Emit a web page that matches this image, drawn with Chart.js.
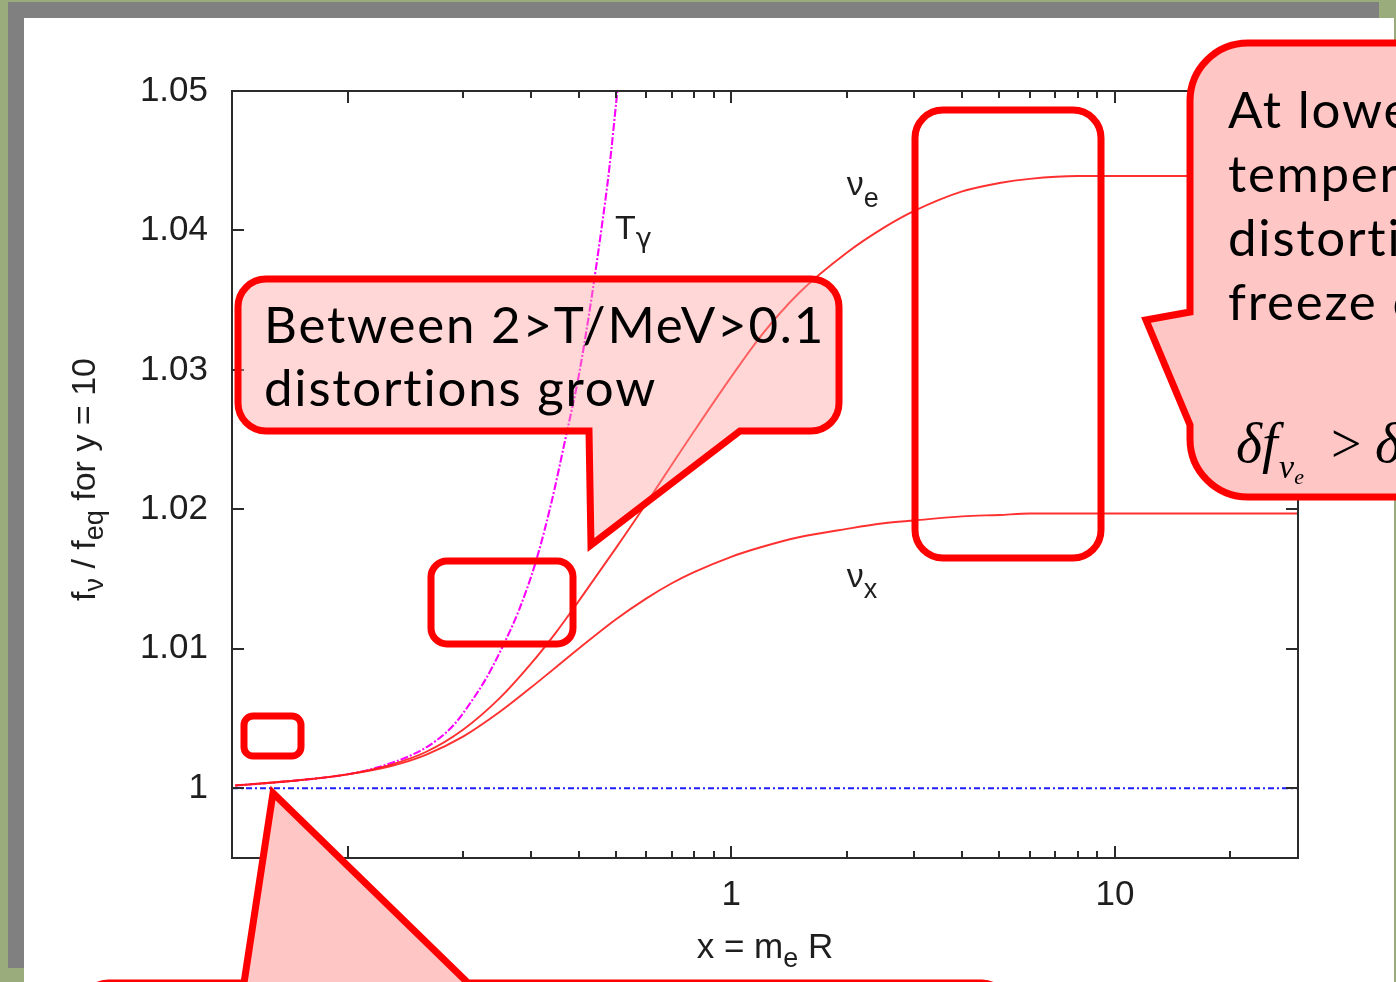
<!DOCTYPE html>
<html>
<head>
<meta charset="utf-8">
<script src="https://cdn.jsdelivr.net/npm/chart.js@4.4.1/dist/chart.umd.min.js"></script>
<style>
  html, body { margin: 0; padding: 0; background: #9bac7c; overflow: hidden; }
  canvas { display: block; }
</style>
</head>
<body>
<canvas id="slide" width="1396" height="982"></canvas>
<script>
// x = m_e R sample points for the neutrino curves
const xNu = [0.051, 0.07, 0.1, 0.13, 0.16, 0.2, 0.25, 0.3, 0.35, 0.4, 0.5, 0.6, 0.7, 0.8, 1, 1.2, 1.5, 2, 2.5, 3, 4, 5, 6, 8, 10, 15, 20, 30];
const nuE = [1.0002, 1.0005, 1.0010, 1.0017, 1.0026, 1.0042, 1.0065, 1.0089, 1.0112, 1.0134, 1.0172, 1.0204, 1.0232, 1.0256, 1.0295, 1.0325, 1.0355, 1.0384, 1.0402, 1.0414, 1.0428, 1.0434, 1.0437, 1.0439, 1.0439, 1.0439, 1.0439, 1.0439];
const nuX = [1.0002, 1.0005, 1.0010, 1.0016, 1.0024, 1.0037, 1.0055, 1.0072, 1.0087, 1.0100, 1.0121, 1.0136, 1.0147, 1.0155, 1.0166, 1.0173, 1.0180, 1.0186, 1.0190, 1.0192, 1.0195, 1.0196, 1.0197, 1.0197, 1.0197, 1.0197, 1.0197, 1.0197];

// photon temperature curve
const xPhoton = [0.051, 0.07, 0.1, 0.12, 0.15, 0.17, 0.19, 0.21, 0.23, 0.25, 0.28, 0.31, 0.34, 0.37, 0.4, 0.43, 0.46, 0.48, 0.505];
const tPhoton = [1.0002, 1.0005, 1.0010, 1.0015, 1.0025, 1.0034, 1.0046, 1.0062, 1.0079, 1.0098, 1.0128, 1.0163, 1.0205, 1.0251, 1.0295, 1.0347, 1.0403, 1.0442, 1.0500];

// equilibrium reference
const xRef = [0.05, 30];
const yRef = [1, 1];

const xTickValues = [0.1, 0.2, 0.3, 0.4, 0.5, 0.6, 0.7, 0.8, 0.9, 1, 2, 3, 4, 5, 6, 7, 8, 9, 10, 20];
const xLabelled = [0.1, 1, 10];
const xLabelText = ['0.1', '1', '10'];
const yTickValues = [1, 1.01, 1.02, 1.03, 1.04, 1.05];
const yLabelText = ['1', '1.01', '1.02', '1.03', '1.04', '1.05'];

const toPoints = (xs, ys) => xs.map((x, i) => ({ x: x, y: ys[i] }));

const AXIS_FONT = '"Liberation Sans", Arial, sans-serif';
const SLIDE_FONT = 'Lato, "Open Sans", sans-serif';
const INK = '#1e1e1e';

// draws a run of text pieces with their own size / offset (for sub-scripts)
function drawRich(c, parts, x, y, align) {
  let w = 0;
  parts.forEach(p => { c.font = p.font; w += c.measureText(p.t).width; });
  let cx = align === 'center' ? x - w / 2 : x;
  parts.forEach(p => {
    c.font = p.font;
    c.fillText(p.t, cx, y + (p.dy || 0));
    cx += c.measureText(p.t).width;
  });
}

const slideBackground = {
  id: 'slideBackground',
  beforeDraw(chart) {
    const c = chart.ctx;
    c.save();
    c.fillStyle = '#9bac7c';
    c.fillRect(0, 0, chart.width, chart.height);
    c.fillStyle = '#808080';
    c.fillRect(8, 2, 1371, 966);
    c.fillStyle = '#ffffff';
    c.fillRect(24, 18, 1370, 964);
    c.restore();
  }
};

// gnuplot style box with inward ticks on all four sides
const plotFrame = {
  id: 'plotFrame',
  afterDatasetsDraw(chart) {
    const { ctx: c, chartArea: a, scales: { x, y } } = chart;
    c.save();
    c.strokeStyle = '#2b2b2b';
    c.lineWidth = 2;
    c.strokeRect(a.left, a.top, a.right - a.left, a.bottom - a.top);
    c.beginPath();
    x.ticks.forEach(t => {
      const px = Math.round(x.getPixelForValue(t.value));
      const len = xLabelled.includes(t.value) ? 12 : 7;
      c.moveTo(px, a.bottom); c.lineTo(px, a.bottom - len);
      c.moveTo(px, a.top); c.lineTo(px, a.top + len);
    });
    y.ticks.forEach(t => {
      const py = Math.round(y.getPixelForValue(t.value));
      c.moveTo(a.left, py); c.lineTo(a.left + 12, py);
      c.moveTo(a.right, py); c.lineTo(a.right - 12, py);
    });
    c.stroke();
    c.restore();
  }
};

// curve names and axis titles
const plotText = {
  id: 'plotText',
  afterDatasetsDraw(chart) {
    const { ctx: c, chartArea: a, scales: { x, y } } = chart;
    const big = '34px ' + AXIS_FONT;
    const sub = '27px ' + AXIS_FONT;
    c.save();
    c.fillStyle = INK;
    c.textBaseline = 'alphabetic';

    drawRich(c, [{ t: 'ν', font: big }, { t: 'e', font: sub, dy: 12 }],
      x.getPixelForValue(2.0), y.getPixelForValue(1.04254), 'left');
    drawRich(c, [{ t: 'ν', font: big }, { t: 'x', font: sub, dy: 11 }],
      x.getPixelForValue(2.0), y.getPixelForValue(1.01443), 'left');
    drawRich(c, [{ t: 'T', font: big }, { t: 'γ', font: '27px "DejaVu Sans", sans-serif', dy: 8 }],
      x.getPixelForValue(0.498), y.getPixelForValue(1.03938), 'left');

    // x axis title
    drawRich(c, [{ t: 'x = m', font: '35px ' + AXIS_FONT }, { t: 'e', font: sub, dy: 9 }, { t: ' R', font: '35px ' + AXIS_FONT }],
      (a.left + a.right) / 2, 958, 'center');

    // y axis title, rotated
    c.translate(95, (a.top + a.bottom) / 2 + 5);
    c.rotate(-Math.PI / 2);
    drawRich(c, [
      { t: 'f', font: big }, { t: 'ν', font: sub, dy: 8 },
      { t: ' / f', font: big }, { t: 'eq', font: sub, dy: 8 },
      { t: ' for y = 10', font: big }
    ], 0, 0, 'center');
    c.restore();
  }
};

function roundRectPath(c, l, t, r, b, rad) {
  c.beginPath();
  c.moveTo(l + rad, t);
  c.lineTo(r - rad, t);
  c.arcTo(r, t, r, t + rad, rad);
  c.lineTo(r, b - rad);
  c.arcTo(r, b, r - rad, b, rad);
  c.lineTo(l + rad, b);
  c.arcTo(l, b, l, b - rad, rad);
  c.lineTo(l, t + rad);
  c.arcTo(l, t, l + rad, t, rad);
  c.closePath();
}

// speech bubbles and highlight boxes laid over the plot
const callouts = {
  id: 'callouts',
  afterDraw(chart) {
    const c = chart.ctx;
    c.save();
    c.strokeStyle = '#ff0000';
    c.lineWidth = 7;
    c.lineJoin = 'miter';

    // highlight boxes
    roundRectPath(c, 915, 110, 1101, 558, 28); c.stroke();
    roundRectPath(c, 431, 561, 573, 644, 16); c.stroke();
    roundRectPath(c, 244, 716, 301, 756, 9); c.stroke();

    // bubble: distortions grow
    const L = 238, T = 279, R = 839, B = 431, r = 28;
    c.beginPath();
    c.moveTo(L + r, T);
    c.lineTo(R - r, T);
    c.arcTo(R, T, R, T + r, r);
    c.lineTo(R, B - r);
    c.arcTo(R, B, R - r, B, r);
    c.lineTo(740, B);
    c.lineTo(591, 545);
    c.lineTo(589, B);
    c.lineTo(L + r, B);
    c.arcTo(L, B, L, B - r, r);
    c.lineTo(L, T + r);
    c.arcTo(L, T, L + r, T, r);
    c.closePath();
    c.fillStyle = 'rgba(255, 160, 160, 0.42)';
    c.fill();
    c.stroke();

    // bubble: freeze out
    const L2 = 1190, T2 = 43, R2 = 1480, B2 = 497, r2 = 58;
    c.beginPath();
    c.moveTo(L2 + r2, T2);
    c.lineTo(R2, T2);
    c.lineTo(R2, B2);
    c.lineTo(L2 + r2, B2);
    c.arcTo(L2, B2, L2, B2 - r2, r2);
    c.lineTo(L2, 425);
    c.lineTo(1146, 320);
    c.lineTo(L2, 312);
    c.lineTo(L2, T2 + r2);
    c.arcTo(L2, T2, L2 + r2, T2, r2);
    c.closePath();
    c.fillStyle = '#ffc6c6';
    c.fill();
    c.stroke();

    // bubble from below, pointing at the start of the curves
    c.beginPath();
    c.moveTo(108, 983);
    c.lineTo(244, 983);
    c.lineTo(273, 793);
    c.lineTo(468, 983);
    c.lineTo(982, 983);
    c.arcTo(1006, 983, 1006, 1007, 24);
    c.lineTo(1006, 1100);
    c.lineTo(84, 1100);
    c.lineTo(84, 1007);
    c.arcTo(84, 983, 108, 983, 24);
    c.closePath();
    c.fillStyle = '#ffc6c6';
    c.fill();
    c.stroke();

    // bubble text
    c.fillStyle = '#000000';
    c.textBaseline = 'alphabetic';
    c.font = '51px ' + SLIDE_FONT;
    c.letterSpacing = '1.8px';
    c.fillText('Between 2>T/MeV>0.1', 264, 343);
    c.fillText('distortions grow', 264, 406);
    ['At lower', 'temperatures', 'distortions', 'freeze out'].forEach((line, i) => {
      c.fillText(line, 1228, 128 + i * 64);
    });
    c.letterSpacing = '0px';

    const it = size => 'italic ' + size + 'px "Liberation Serif", "Times New Roman", serif';
    drawRich(c, [
      { t: 'δf', font: it(56) },
      { t: ' ', font: it(6) },
      { t: 'ν', font: it(34), dy: 16 },
      { t: 'e', font: it(22), dy: 22 },
      { t: '  > ', font: '54px "Liberation Serif", serif' },
      { t: 'δf', font: it(56) },
      { t: 'ν', font: it(34), dy: 16 },
      { t: 'μ,τ', font: it(22), dy: 22 }
    ], 1236, 462, 'left');
    c.restore();
  }
};

const chart = new Chart(document.getElementById('slide'), {
  type: 'scatter',
  data: {
    datasets: [
      {
        label: 'equilibrium',
        data: toPoints(xRef, yRef),
        showLine: true,
        borderColor: '#1e1eff',
        borderWidth: 2,
        borderDash: [6, 3, 2, 3],
        pointRadius: 0
      },
      {
        label: 'ν_x',
        data: toPoints(xNu, nuX),
        showLine: true,
        borderColor: 'rgba(255, 25, 25, 0.9)',
        borderWidth: 1.9,
        cubicInterpolationMode: 'monotone',
        pointRadius: 0
      },
      {
        label: 'ν_e',
        data: toPoints(xNu, nuE),
        showLine: true,
        borderColor: 'rgba(255, 25, 25, 0.9)',
        borderWidth: 1.9,
        cubicInterpolationMode: 'monotone',
        pointRadius: 0
      },
      {
        label: 'T_γ',
        data: toPoints(xPhoton, tPhoton),
        showLine: true,
        borderColor: '#ff00ff',
        borderWidth: 2.1,
        borderDash: [8, 2, 2, 2],
        cubicInterpolationMode: 'monotone',
        pointRadius: 0
      }
    ]
  },
  options: {
    responsive: false,
    animation: false,
    events: [],
    layout: { padding: { top: 91, right: 98, bottom: 0, left: 0 } },
    plugins: {
      legend: { display: false },
      tooltip: { enabled: false }
    },
    scales: {
      x: {
        type: 'logarithmic',
        min: 0.05,
        max: 30,
        afterFit: scale => { scale.height = 124; },
        afterBuildTicks: scale => { scale.ticks = xTickValues.map(v => ({ value: v })); },
        grid: { display: false, drawTicks: false },
        border: { display: false },
        ticks: {
          autoSkip: false,
          maxRotation: 0,
          padding: 16,
          color: INK,
          font: { family: AXIS_FONT, size: 35 },
          callback: value => {
            const i = xLabelled.indexOf(value);
            return i >= 0 ? xLabelText[i] : '';
          }
        }
      },
      y: {
        min: 0.995,
        max: 1.05,
        afterFit: scale => { scale.width = 232; },
        afterBuildTicks: scale => { scale.ticks = yTickValues.map(v => ({ value: v })); },
        grid: { display: false, drawTicks: false },
        border: { display: false },
        ticks: {
          padding: 24,
          color: INK,
          font: { family: AXIS_FONT, size: 35 },
          callback: value => yLabelText[yTickValues.indexOf(value)]
        }
      }
    }
  },
  plugins: [slideBackground, plotFrame, plotText, callouts]
});
</script>
</body>
</html>
